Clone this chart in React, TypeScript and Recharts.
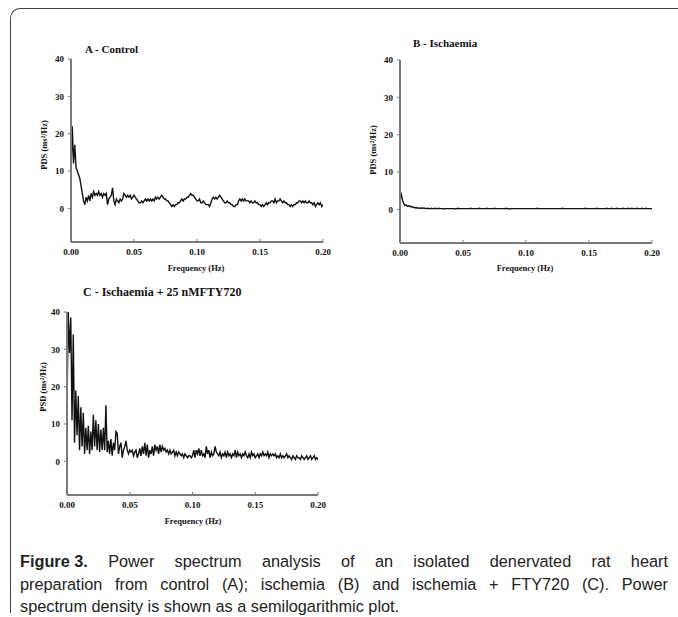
import { Line, LineChart, XAxis, YAxis } from 'recharts'

// spectra sampled every 0.001 Hz from 0.000 to 0.200
const FREQ_STEP = 0.001
const FREQ_TICKS = [0, 0.05, 0.1, 0.15, 0.2]
const PSD_TICKS = [0, 10, 20, 30, 40]

const controlPsd = [
  10, 22, 12, 17, 11, 10, 9, 8, 6, 4,
  2, 1, 3, 2, 3.5, 2, 4, 3, 4.5, 3.5,
  4, 3.5, 4.5, 3.5, 4, 3, 4, 3.5, 4, 1,
  2.5, 3, 3.5, 5.5, 2, 1, 2.5, 2, 1.5, 2.5,
  2, 2.5, 4, 3.5, 3, 3.5, 3, 3.5, 2.5, 3,
  3.5, 3, 2.5, 2, 1.5, 1.5, 2, 1.5, 2, 2.5,
  2, 2.5, 2, 2.5, 2, 2.5, 2, 3, 2.5, 3,
  2.5, 3, 3.5, 3, 2.5, 2.5, 2, 2, 1.5, 1,
  0.5, 1, 0.5, 1, 1, 1.5, 1.5, 2, 2.5, 2,
  2.5, 2.5, 3, 3, 3.5, 4, 3.5, 3.5, 3, 2.5,
  2, 2, 2.5, 1.5, 1.5, 2, 1.5, 1, 1, 1,
  0.5, 1.5, 2.5, 3, 2.5, 3, 2.5, 3, 3.5, 3,
  2.5, 2, 1.5, 1.5, 2, 1.5, 1.5, 1, 1, 0.5,
  0.5, 1, 1, 2, 2.5, 2, 2.5, 2, 2.5, 2,
  2, 2, 1.5, 2, 1.5, 1.5, 2, 1.5, 1.5, 1,
  1, 0.5, 1, 0.5, 1, 1.5, 1, 1.5, 1.5, 2,
  2, 1.5, 2.5, 1.5, 2, 2, 2.5, 2, 1.5, 2,
  1.5, 1.5, 1, 1, 0.5, 1, 0.5, 1, 1, 1.5,
  1.5, 2, 2, 1.5, 2, 1.5, 2, 1.5, 1.5, 2,
  1.5, 1.5, 1, 1.5, 0.5, 1, 1.5, 1, 1.5, 0.5,
  1,
]

const ischaemiaPsd = [
  3, 4, 2.5, 1.5, 1, 1.2, 0.8, 1, 0.7, 0.8,
  0.5, 0.6, 0.4, 0.5, 0.3, 0.4, 0.3, 0.3, 0.4, 0.3,
  0.3, 0.2, 0.3, 0.2, 0.2, 0.3, 0.2, 0.2, 0.3, 0.2,
  0.2, 0.3, 0.2, 0.2, 0.2, 0.1, 0.2, 0.2, 0.2, 0.2,
  0.2, 0.2, 0.2, 0.2, 0.1, 0.2, 0.3, 0.2, 0.2, 0.2,
  0.2, 0.2, 0.2, 0.2, 0.2, 0.2, 0.3, 0.2, 0.2, 0.2,
  0.2, 0.2, 0.2, 0.3, 0.2, 0.2, 0.2, 0.2, 0.2, 0.3,
  0.2, 0.2, 0.2, 0.2, 0.2, 0.3, 0.2, 0.2, 0.2, 0.2,
  0.2, 0.2, 0.2, 0.2, 0.3, 0.2, 0.2, 0.1, 0.2, 0.2,
  0.2, 0.2, 0.2, 0.2, 0.2, 0.2, 0.2, 0.2, 0.2, 0.2,
  0.2, 0.2, 0.2, 0.2, 0.2, 0.2, 0.2, 0.2, 0.2, 0.3,
  0.2, 0.2, 0.2, 0.2, 0.2, 0.2, 0.2, 0.2, 0.2, 0.2,
  0.2, 0.2, 0.2, 0.2, 0.2, 0.2, 0.2, 0.2, 0.2, 0.3,
  0.2, 0.2, 0.2, 0.2, 0.2, 0.2, 0.2, 0.2, 0.2, 0.2,
  0.2, 0.2, 0.2, 0.2, 0.2, 0.2, 0.2, 0.3, 0.2, 0.2,
  0.2, 0.2, 0.2, 0.2, 0.2, 0.2, 0.3, 0.2, 0.2, 0.2,
  0.2, 0.2, 0.2, 0.2, 0.3, 0.2, 0.2, 0.2, 0.3, 0.2,
  0.2, 0.2, 0.3, 0.2, 0.2, 0.2, 0.2, 0.3, 0.2, 0.2,
  0.2, 0.3, 0.2, 0.2, 0.3, 0.2, 0.2, 0.2, 0.3, 0.2,
  0.2, 0.2, 0.3, 0.2, 0.2, 0.3, 0.2, 0.2, 0.2, 0.2,
  0.2,
]

const fty720Psd = [
  15, 40, 29, 38.5, 11, 34, 5, 19, 7, 17.5,
  3, 14.5, 4, 13, 2, 9, 3, 9.5, 2, 8,
  3, 12.5, 4, 11, 3, 10, 2.5, 8.5, 3, 9,
  3, 15, 2.5, 5.5, 2, 6, 1.5, 5, 3, 8,
  7.5, 2, 4, 5, 1, 3, 4, 5.5, 3, 2,
  3, 2.5, 3, 1.5, 2.5, 3, 1, 2, 3.5, 1.5,
  4, 2, 5, 1.5, 4.5, 1, 3, 2, 4, 1.5,
  4.5, 3, 4, 2, 4.5, 2.5, 4, 3, 3.5, 2.5,
  3, 2, 3, 2, 2.5, 3, 1.5, 2.5, 1.5, 2.5,
  2, 1.5, 2, 1, 2, 1.5, 1, 1.5, 1.5, 1,
  1.5, 3, 1, 3, 2, 3.5, 1.5, 3, 1.5, 2,
  1, 4, 2, 3, 1, 2.5, 1.5, 2, 4, 2.5,
  2, 1.5, 2.5, 1, 2, 1.5, 2.5, 1, 2.5, 1.5,
  2, 1, 2, 1.5, 3, 1, 2.5, 1.5, 2, 1,
  2, 1.5, 2.5, 1.5, 1, 2, 1, 2.5, 1.5, 2,
  1, 1.5, 2, 1, 2, 1.5, 2.5, 1.5, 2, 1.5,
  2.5, 1, 2, 1.5, 2, 1.5, 2, 1, 1.5, 1,
  2, 1, 1.5, 1, 1.5, 2, 1, 1.5, 1, 0.5,
  1.5, 1, 0.5, 1.5, 1, 1, 0.5, 1.5, 1, 0.5,
  1, 1.5, 0.5, 1, 1.5, 0.5, 1, 1.5, 0.5, 1,
  0.5,
]

const CAPTION_LINES = [
  'Power spectrum analysis of an isolated denervated rat heart',
  'preparation from control (A); ischemia (B) and ischemia + FTY720 (C). Power',
  'spectrum density is shown as a semilogarithmic plot.',
]

const serif = '"Liberation Serif", "Times New Roman", serif'
const axisColor = '#7a7a7a'
const tickStyle = { fill: '#111', fontSize: 9, fontWeight: 700, fontFamily: serif }

function toRows(values: number[]) {
  return values.map((v, i) => ({ f: i * FREQ_STEP, psd: v }))
}

function Panel({
  values,
  plotX,
  plotY,
  plotW,
}: {
  values: number[]
  plotX: number
  plotY: number
  plotW: number
}) {
  const yw = 40
  return (
    <div style={{ position: 'absolute', left: plotX - yw, top: plotY - 10 }}>
      <LineChart
        width={yw + plotW + 12}
        height={233}
        data={toRows(values)}
        margin={{ top: 10, right: 12, bottom: 0, left: 0 }}
      >
        <XAxis
          dataKey="f"
          type="number"
          domain={[0, 0.2]}
          ticks={FREQ_TICKS}
          tickFormatter={(v) => Number(v).toFixed(2)}
          height={40}
          tick={tickStyle}
          tickSize={-3}
          tickMargin={10}
          axisLine={{ stroke: axisColor, strokeWidth: 2 }}
          tickLine={{ stroke: axisColor }}
          allowDataOverflow
        />
        <YAxis
          type="number"
          domain={[-9, 40]}
          ticks={PSD_TICKS}
          width={yw}
          tick={tickStyle}
          tickSize={3}
          tickMargin={4}
          axisLine={{ stroke: axisColor, strokeWidth: 2 }}
          tickLine={{ stroke: axisColor }}
          allowDataOverflow
        />
        <Line
          type="linear"
          dataKey="psd"
          stroke="#111"
          strokeWidth={1.4}
          dot={false}
          isAnimationActive={false}
        />
      </LineChart>
    </div>
  )
}

function Text({
  x,
  y,
  size,
  children,
  center,
  rotate,
}: {
  x: number
  y: number
  size: number
  children: React.ReactNode
  center?: boolean
  rotate?: boolean
}) {
  let transform = 'translate(0,-50%)'
  if (center) transform = 'translate(-50%,-50%)'
  if (rotate) transform = 'translate(-50%,-50%) rotate(-90deg)'
  return (
    <div
      style={{
        position: 'absolute',
        left: x,
        top: y,
        transform,
        fontFamily: serif,
        fontWeight: 700,
        fontSize: size,
        color: '#111',
        whiteSpace: 'nowrap',
        lineHeight: 1,
      }}
    >
      {children}
    </div>
  )
}

export default function App() {
  const captionLine = {
    position: 'absolute' as const,
    left: 20,
    width: 648,
    fontFamily: '"Liberation Sans", Arial, sans-serif',
    fontSize: 16.3,
    lineHeight: '20px',
    color: '#222',
    whiteSpace: 'nowrap' as const,
  }
  return (
    <div
      style={{
        position: 'absolute',
        left: 0,
        top: 0,
        width: 678,
        height: 617,
        overflow: 'hidden',
        background: '#fff',
      }}
    >
      <div
        style={{
          position: 'absolute',
          left: 10,
          top: 8,
          width: 720,
          height: 604,
          borderTop: '1px solid #444',
          borderLeft: '1px solid #444',
          borderTopLeftRadius: 10,
        }}
      />

      <Text x={85} y={49} size={11}>A - Control</Text>
      <Text x={44} y={145} size={8.5} rotate>PDS (ms²/Hz)</Text>
      <Text x={196} y={268} size={8.5} center>Frequency (Hz)</Text>
      <Panel values={controlPsd} plotX={71} plotY={59} plotW={252} />

      <Text x={413} y={43} size={11}>B - Ischaemia</Text>
      <Text x={373} y={150} size={8.5} rotate>PDS (ms²/Hz)</Text>
      <Text x={525} y={268} size={8.5} center>Frequency (Hz)</Text>
      <Panel values={ischaemiaPsd} plotX={400} plotY={60} plotW={252} />

      <Text x={83} y={292} size={12}>C - Ischaemia + 25 nMFTY720</Text>
      <Text x={43} y={387} size={8.5} rotate>PSD (ms²/Hz)</Text>
      <Text x={193} y={521} size={8.5} center>Frequency (Hz)</Text>
      <Panel values={fty720Psd} plotX={67} plotY={312} plotW={251} />

      <div
        style={{
          ...captionLine,
          top: 551,
          display: 'flex',
          justifyContent: 'space-between',
        }}
      >
        {['Figure 3.', ...CAPTION_LINES[0].split(' ')].map((w, i) => (
          <span key={i} style={{ fontWeight: i === 0 ? 700 : 400 }}>
            {w}
          </span>
        ))}
      </div>
      <div
        style={{
          ...captionLine,
          top: 574,
          display: 'flex',
          justifyContent: 'space-between',
        }}
      >
        {CAPTION_LINES[1].split(' ').map((w, i) => (
          <span key={i}>{w}</span>
        ))}
      </div>
      <div style={{ ...captionLine, top: 596 }}>{CAPTION_LINES[2]}</div>
    </div>
  )
}
